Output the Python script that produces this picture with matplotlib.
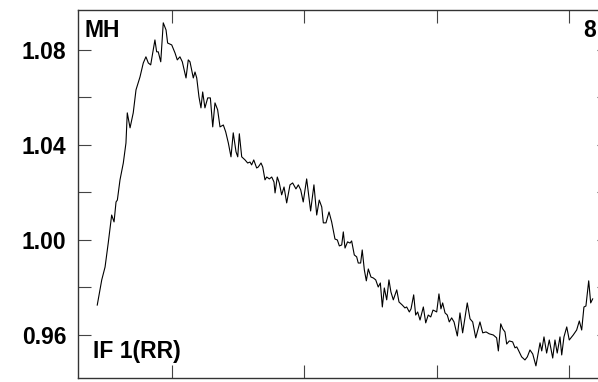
import matplotlib
matplotlib.use("Agg")
import matplotlib.pyplot as plt
from matplotlib.ticker import FixedLocator, NullFormatter

# series (x in tick units, y = ratio)
x = [-0.565, -0.531, -0.506, -0.482, -0.456, -0.438, -0.423, -0.413, -0.393, -0.368,
     -0.348, -0.338, -0.317, -0.293, -0.272, -0.242, -0.217, -0.197, -0.179, -0.161,
     -0.129, -0.116, -0.104, -0.085, -0.066, -0.045, -0.033, -0.002, 0.023, 0.040,
     0.060, 0.078, 0.106, 0.123, 0.136, 0.161, 0.174, 0.187, 0.204, 0.219,
     0.232, 0.249, 0.270, 0.290, 0.308, 0.325, 0.345, 0.363, 0.388, 0.406,
     0.426, 0.446, 0.463, 0.484, 0.497, 0.509, 0.527, 0.552, 0.572, 0.590,
     0.602, 0.618, 0.640, 0.652, 0.673, 0.686, 0.703, 0.716, 0.736, 0.754,
     0.771, 0.779, 0.796, 0.811, 0.829, 0.847, 0.867, 0.892, 0.912, 0.937,
     0.955, 0.973, 0.992, 1.018, 1.048, 1.073, 1.094, 1.113, 1.132, 1.144,
     1.164, 1.187, 1.207, 1.232, 1.250, 1.265, 1.283, 1.295, 1.308, 1.327,
     1.346, 1.358, 1.378, 1.396, 1.408, 1.426, 1.438, 1.454, 1.469, 1.484,
     1.504, 1.522, 1.540, 1.559, 1.575, 1.590, 1.605, 1.623, 1.640, 1.655,
     1.673, 1.699, 1.716, 1.741, 1.761, 1.774, 1.794, 1.807, 1.827, 1.842,
     1.857, 1.875, 1.900, 1.918, 1.937, 1.956, 1.973, 1.988, 2.001, 2.018,
     2.033, 2.046, 2.064, 2.081, 2.096, 2.114, 2.132, 2.157, 2.177, 2.197,
     2.232, 2.253, 2.273, 2.296, 2.328, 2.349, 2.374, 2.398, 2.429, 2.454,
     2.467, 2.485, 2.500, 2.517, 2.530, 2.550, 2.575, 2.593, 2.606, 2.618,
     2.643, 2.668, 2.686, 2.706, 2.727, 2.751, 2.782, 2.795, 2.812, 2.832,
     2.852, 2.878, 2.895, 2.912, 2.933, 2.946, 2.963, 2.984, 3.003, 3.033,
     3.059, 3.079, 3.097, 3.114, 3.129, 3.150, 3.165, 3.180]
y = [0.9726, 0.9832, 0.9886, 0.9987, 1.0105, 1.0076, 1.0160, 1.0168, 1.0253, 1.0324,
     1.0408, 1.0535, 1.0472, 1.0535, 1.0632, 1.0686, 1.0745, 1.0771, 1.0745, 1.0737,
     1.0842, 1.0792, 1.0792, 1.0750, 1.0914, 1.0884, 1.0829, 1.0821, 1.0787, 1.0758,
     1.0771, 1.0750, 1.0682, 1.0758, 1.0750, 1.0682, 1.0707, 1.0682, 1.0602, 1.0556,
     1.0623, 1.0556, 1.0598, 1.0598, 1.0476, 1.0577, 1.0548, 1.0476, 1.0484, 1.0455,
     1.0408, 1.0350, 1.0451, 1.0371, 1.0350, 1.0447, 1.0350, 1.0337, 1.0324, 1.0328,
     1.0316, 1.0337, 1.0303, 1.0307, 1.0324, 1.0307, 1.0253, 1.0265, 1.0257, 1.0265,
     1.0244, 1.0198, 1.0265, 1.0240, 1.0190, 1.0223, 1.0156, 1.0232, 1.0240, 1.0215,
     1.0232, 1.0211, 1.0160, 1.0257, 1.0122, 1.0232, 1.0105, 1.0168, 1.0139, 1.0072,
     1.0072, 1.0118, 1.0076, 1.0004, 1.0000, 0.9975, 0.9979, 1.0034, 0.9966, 0.9992,
     0.9987, 0.9996, 0.9937, 0.9929, 0.9903, 0.9903, 0.9958, 0.9874, 0.9828, 0.9878,
     0.9844, 0.9840, 0.9832, 0.9802, 0.9819, 0.9718, 0.9798, 0.9748, 0.9832, 0.9781,
     0.9748, 0.9790, 0.9739, 0.9726, 0.9714, 0.9718, 0.9697, 0.9710, 0.9769, 0.9684,
     0.9697, 0.9663, 0.9718, 0.9651, 0.9684, 0.9676, 0.9705, 0.9701, 0.9697, 0.9773,
     0.9710, 0.9735, 0.9693, 0.9684, 0.9655, 0.9672, 0.9655, 0.9596, 0.9693, 0.9609,
     0.9735, 0.9668, 0.9655, 0.9588, 0.9655, 0.9609, 0.9613, 0.9605, 0.9600, 0.9588,
     0.9533, 0.9647, 0.9626, 0.9613, 0.9562, 0.9575, 0.9571, 0.9546, 0.9550, 0.9537,
     0.9508, 0.9495, 0.9508, 0.9537, 0.9520, 0.9470, 0.9567, 0.9533, 0.9592, 0.9524,
     0.9579, 0.9503, 0.9579, 0.9524, 0.9592, 0.9516, 0.9592, 0.9634, 0.9579, 0.9600,
     0.9621, 0.9659, 0.9621, 0.9718, 0.9722, 0.9828, 0.9735, 0.9752]

x_ticks = [0, 1, 2, 3]
y_major = [0.96, 1.00, 1.04, 1.08]
y_minor = [0.98, 1.02, 1.06]
y_labels = ["0.96", "1.00", "1.04", "1.08"]

plt.rcParams["font.family"] = ["Liberation Sans", "DejaVu Sans"]
plt.rcParams["font.weight"] = "bold"

fig = plt.figure(figsize=(5.98, 3.82), dpi=100)
# axes run past the right edge, as in the reference (right frame is cut off)
ax = fig.add_axes([78 / 598, 4 / 382, 532 / 598, 368 / 382])

ax.plot(x, y, color="black", lw=0.8)

ax.set_xlim(-0.7105, 3.311)
ax.set_ylim(0.9419, 1.0968)

ax.xaxis.set_major_locator(FixedLocator(x_ticks))
ax.xaxis.set_major_formatter(NullFormatter())
ax.yaxis.set_major_locator(FixedLocator(y_major))
ax.yaxis.set_minor_locator(FixedLocator(y_minor))
ax.set_yticklabels(y_labels)

for which in ("major", "minor"):
    ax.tick_params(axis="both", which=which, direction="in", length=9.5,
                   width=0.8, color="#444444", top=True, right=True)
ax.tick_params(axis="y", which="major", labelsize=16.5, pad=8.5,
               labelcolor="black")
for lab in ax.get_yticklabels():
    lab.set_fontweight("bold")

for sp in ax.spines.values():
    sp.set_color("#333333")
    sp.set_linewidth(1.0)

txt = dict(transform=ax.transAxes, fontsize=16.5, fontweight="bold",
           va="baseline", ha="left")
ax.text(0.013, 0.9266, "MH", **txt)
ax.text(0.0282, 0.0543, "IF 1(RR)", **txt)
ax.text(0.949, 0.9266, "8", **txt)

fig.savefig("out.png", dpi=100)
